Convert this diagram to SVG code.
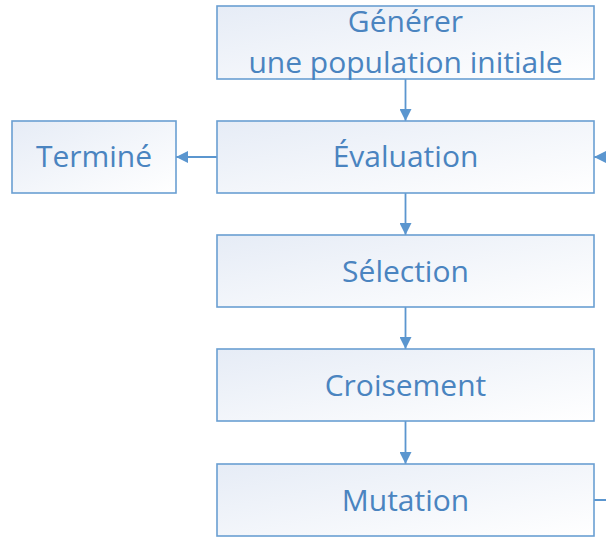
<svg xmlns="http://www.w3.org/2000/svg" width="606" height="537" viewBox="0 0 606 537">
  <style>
    .box { fill: url(#boxFill); stroke: #6a9fd2; stroke-width: 1.6; }
    .label { font-family: "Open Sans", "Noto Sans", sans-serif; font-size: 30px; fill: #4a84c0; text-anchor: middle; }
    .conn { fill: none; stroke: #5b96cf; stroke-width: 1.8; }
  </style>
  <defs>
    <linearGradient id="boxFill" x1="0" y1="0" x2="1" y2="1">
      <stop offset="0" stop-color="#e6ecf6"/>
      <stop offset="1" stop-color="#ffffff"/>
    </linearGradient>
    <marker id="arrow" viewBox="0 0 12 12" refX="12" refY="6" markerWidth="12" markerHeight="12" markerUnits="userSpaceOnUse" orient="auto">
      <path d="M0,0 L12,6 L0,12 Z" fill="#5b96cf"/>
    </marker>
  </defs>

  <g id="connectors">
    <line class="conn" x1="405.5" y1="79" x2="405.5" y2="121" marker-end="url(#arrow)"/>
    <line class="conn" x1="217" y1="157" x2="176" y2="157" marker-end="url(#arrow)"/>
    <line class="conn" x1="405.5" y1="193" x2="405.5" y2="235" marker-end="url(#arrow)"/>
    <line class="conn" x1="405.5" y1="307" x2="405.5" y2="349" marker-end="url(#arrow)"/>
    <line class="conn" x1="405.5" y1="421" x2="405.5" y2="464" marker-end="url(#arrow)"/>
    <path class="conn" d="M594,500 H630 V157 H594" marker-end="url(#arrow)"/>
  </g>

  <g id="init">
    <rect class="box" x="217" y="6" width="377" height="73"/>
    <text class="label" x="405.5" y="32">Générer</text>
    <text class="label" x="405.5" y="73">une population initiale</text>
  </g>
  <g id="evaluation">
    <rect class="box" x="217" y="121" width="377" height="72"/>
    <text class="label" x="405.5" y="167">Évaluation</text>
  </g>
  <g id="termine">
    <rect class="box" x="12" y="121" width="164" height="72"/>
    <text class="label" x="94" y="167">Terminé</text>
  </g>
  <g id="selection">
    <rect class="box" x="217" y="235" width="377" height="72"/>
    <text class="label" x="405.5" y="282">Sélection</text>
  </g>
  <g id="croisement">
    <rect class="box" x="217" y="349" width="377" height="72"/>
    <text class="label" x="405.5" y="396">Croisement</text>
  </g>
  <g id="mutation">
    <rect class="box" x="217" y="464" width="377" height="72"/>
    <text class="label" x="405.5" y="511">Mutation</text>
  </g>
</svg>
